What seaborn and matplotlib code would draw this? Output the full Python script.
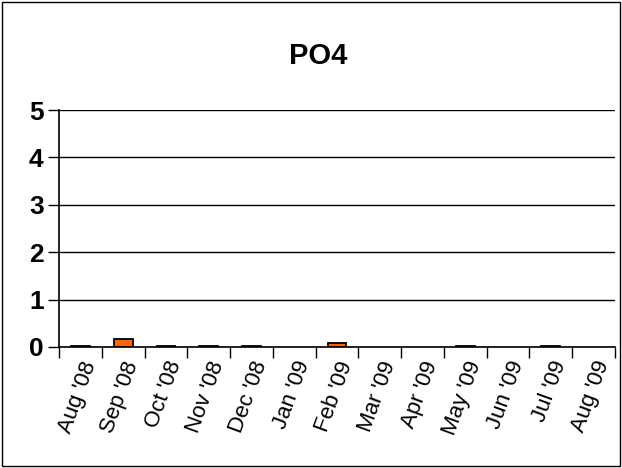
import numpy as np
import pandas as pd
import matplotlib
matplotlib.use("Agg")
import matplotlib.pyplot as plt
import seaborn as sns

months = ["Aug '08", "Sep '08", "Oct '08", "Nov '08", "Dec '08", "Jan '09", "Feb '09",
          "Mar '09", "Apr '09", "May '09", "Jun '09", "Jul '09", "Aug '09"]
po4 = [0.03, 0.16, 0.03, 0.03, 0.03, np.nan, 0.08, np.nan, np.nan, 0.03, np.nan, 0.03, np.nan]
yticks = [0, 1, 2, 3, 4, 5]

sns.set_style("white")
plt.rcParams['font.family'] = ['Liberation Sans', 'DejaVu Sans']
plt.rcParams['text.color'] = 'black'
plt.rcParams['xtick.color'] = 'black'
plt.rcParams['ytick.color'] = 'black'
plt.rcParams['axes.labelcolor'] = 'black'

df = pd.DataFrame({"month": months, "PO4": po4})

fig = plt.figure(figsize=(6.22, 4.68), dpi=100)
ax = fig.add_axes([59/622, 1-347/468, (615-59)/622, (347-110)/468])

sns.barplot(data=df, x="month", y="PO4", order=months, color="#FF6600",
            edgecolor="black", linewidth=1.3, width=0.44, ax=ax, saturation=1)

ax.set_ylim(0, 5)
ax.set_xlim(-0.5, len(months) - 0.5)
ax.set_yticks(yticks)
ax.set_yticklabels([str(v) for v in yticks], fontsize=19, fontweight="bold", color="black")
ax.yaxis.grid(True, color="black", linewidth=1)
ax.set_axisbelow(True)
ax.tick_params(axis="y", length=8, width=1, color="black", direction="out", pad=3, left=True)

ax.set_xticks(range(len(months)))
ax.set_xticklabels(months, rotation=70, ha="right", rotation_mode="anchor", fontsize=16, color="black")
ax.set_xticks(np.arange(-0.5, len(months), 1), minor=True)
ax.tick_params(axis="x", which="major", length=0, pad=8)
ax.tick_params(axis="x", which="minor", length=8, width=1, color="black", direction="out", bottom=True)

ax.set_xlabel("")
ax.set_ylabel("")
for s in ["top", "right"]:
    ax.spines[s].set_visible(False)
for s in ["left", "bottom"]:
    ax.spines[s].set_color("black")
    ax.spines[s].set_linewidth(1.2)

fig.text(318/622, 1-56/468, "PO4", ha="center", va="center", fontsize=21, fontweight="bold", color="black")

border = plt.Rectangle((2/622, 2/468), 618/622, 464/468, transform=fig.transFigure,
                       fill=False, edgecolor="black", linewidth=1)
fig.add_artist(border)

fig.savefig("out.png", dpi=100)
